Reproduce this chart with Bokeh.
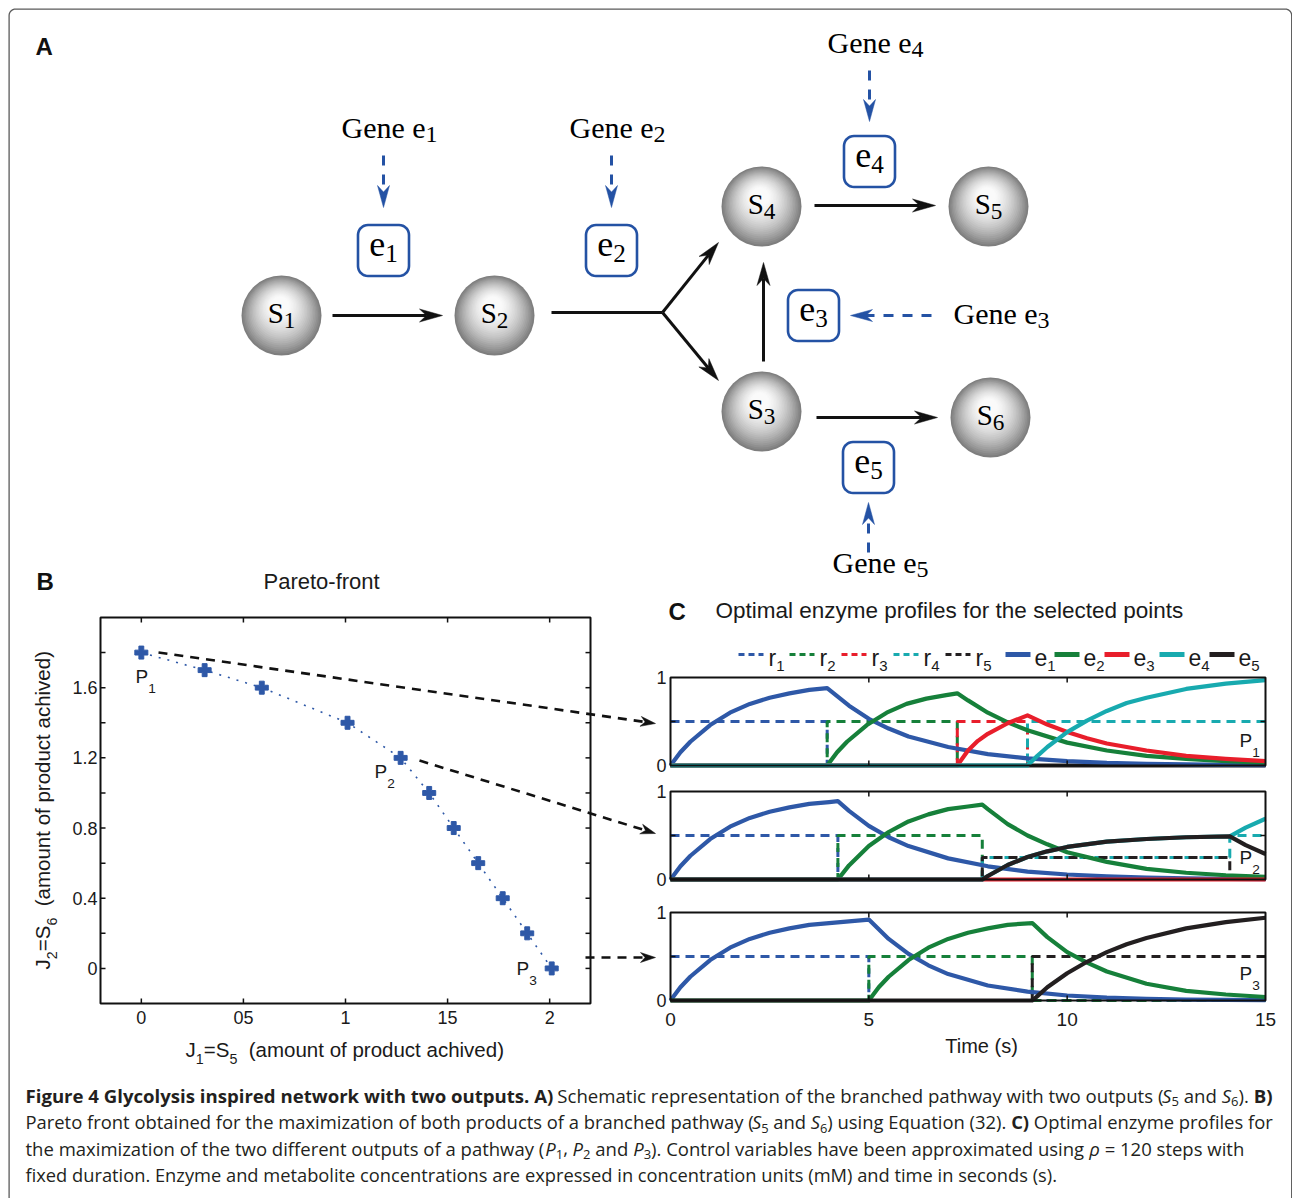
import os, math, glob, subprocess
from bokeh.plotting import figure
from bokeh.models import Range1d
from bokeh.core.properties import value
from bokeh.embed import file_html
from bokeh.resources import INLINE

try:
    from PIL import ImageFont
except Exception:
    ImageFont = None

# ------------------------------------------------------------------ data
# Panel B : Pareto front
PARETO_J1 = [0.0, 0.31, 0.59, 1.01, 1.27, 1.41, 1.53, 1.65, 1.77, 1.89, 2.01]
PARETO_J2 = [1.8, 1.7, 1.6, 1.4, 1.2, 1.0, 0.8, 0.6, 0.4, 0.2, 0.0]
BX_TICKS = [0, 0.5, 1, 1.5, 2]
BX_LABELS = ["0", "05", "1", "15", "2"]
BY_TICKS = [0, 0.2, 0.4, 0.6, 0.8, 1.0, 1.2, 1.4, 1.6, 1.8]
BY_LABEL_AT = [0, 0.4, 0.8, 1.2, 1.6]
BY_LABELS = ["0", "0.4", "0.8", "1.2", "1.6"]

# Panel C : time axis
CX_TICKS = [5, 10]
CX_LABEL_AT = [0, 5, 10, 15]
CX_LABELS = ["0", "5", "10", "15"]
CY_TICKS = [0.5]
CY_LABEL_AT = [0, 1]
CY_LABELS = ["0", "1"]

# P1 controls (r) and enzymes (e)
P1_T_R1 = [0, 3.95, 3.95, 15];              P1_R1 = [0.5, 0.5, 0, 0]
P1_T_R2 = [0, 3.95, 3.95, 7.23, 7.23, 15];  P1_R2 = [0, 0, 0.5, 0.5, 0, 0]
P1_T_R3 = [0, 7.23, 7.23, 9.0, 9.0, 15];    P1_R3 = [0, 0, 0.5, 0.5, 0, 0]
P1_T_R4 = [0, 9.0, 9.0, 15];                P1_R4 = [0, 0, 0.5, 0.5]
P1_T_R5 = [0, 15];                          P1_R5 = [0, 0]
P1_T_E1 = [0, 0.25, 0.5, 1, 1.5, 2, 2.5, 3, 3.5, 3.95, 4.5, 5, 5.5, 6, 7, 8, 9, 10, 11, 12, 13, 14, 15]
P1_E1 = [0, 0.15, 0.27, 0.46, 0.60, 0.70, 0.77, 0.82, 0.86, 0.88, 0.68, 0.53, 0.42, 0.33, 0.21, 0.13, 0.08, 0.05, 0.03, 0.02, 0.012, 0.007, 0.005]
P1_T_E2 = [0, 3.95, 4.2, 4.45, 4.95, 5.45, 5.95, 6.45, 6.95, 7.23, 7.5, 8, 8.5, 9, 10, 11, 12, 13, 14, 15]
P1_E2 = [0, 0, 0.15, 0.27, 0.46, 0.60, 0.70, 0.76, 0.80, 0.82, 0.74, 0.60, 0.49, 0.40, 0.26, 0.17, 0.11, 0.075, 0.05, 0.033]
P1_T_E3 = [0, 7.23, 7.5, 7.75, 8, 8.5, 9, 9.5, 10, 10.5, 11, 12, 13, 14, 15]
P1_E3 = [0, 0, 0.17, 0.28, 0.36, 0.48, 0.57, 0.465, 0.38, 0.31, 0.25, 0.17, 0.11, 0.075, 0.05]
P1_T_E4 = [0, 9, 9.25, 9.5, 10, 10.5, 11, 11.5, 12, 13, 14, 15]
P1_E4 = [0, 0, 0.11, 0.21, 0.38, 0.51, 0.62, 0.71, 0.77, 0.87, 0.93, 0.97]
P1_T_E5 = [0, 15];                          P1_E5 = [0, 0]

# P2
P2_T_R1 = [0, 4.22, 4.22, 15];              P2_R1 = [0.5, 0.5, 0, 0]
P2_T_R2 = [0, 4.22, 4.22, 7.86, 7.86, 15];  P2_R2 = [0, 0, 0.5, 0.5, 0, 0]
P2_T_R3 = [0, 15];                          P2_R3 = [0, 0]
P2_T_R4 = [0, 7.86, 7.86, 14.1, 14.1, 15];  P2_R4 = [0, 0, 0.25, 0.25, 0.5, 0.5]
P2_T_R5 = [0, 7.86, 7.86, 14.1, 14.1, 15];  P2_R5 = [0, 0, 0.25, 0.25, 0, 0]
P2_T_E1 = [0, 0.25, 0.5, 1, 1.5, 2, 2.5, 3, 3.5, 4, 4.22, 4.5, 5, 5.5, 6, 7, 8, 9, 10, 11, 12, 13, 14, 15]
P2_E1 = [0, 0.15, 0.27, 0.46, 0.60, 0.70, 0.77, 0.82, 0.86, 0.88, 0.89, 0.78, 0.61, 0.48, 0.38, 0.24, 0.15, 0.09, 0.057, 0.035, 0.022, 0.014, 0.008, 0.005]
P2_T_E2 = [0, 4.22, 4.5, 5, 5.5, 6, 6.5, 7, 7.5, 7.86, 8, 8.5, 9, 9.5, 10, 11, 12, 13, 14, 15]
P2_E2 = [0, 0, 0.16, 0.38, 0.54, 0.66, 0.74, 0.80, 0.83, 0.85, 0.80, 0.63, 0.50, 0.40, 0.31, 0.20, 0.12, 0.077, 0.048, 0.03]
P2_T_E3 = [0, 15];                          P2_E3 = [0, 0]
P2_T_E4 = [0, 7.86, 8, 8.5, 9, 9.5, 10, 11, 12, 13, 14.1, 14.5, 15]
P2_E4 = [0, 0, 0.04, 0.165, 0.255, 0.32, 0.37, 0.43, 0.46, 0.48, 0.49, 0.59, 0.69]
P2_T_E5 = [0, 7.86, 8, 8.5, 9, 9.5, 10, 11, 12, 13, 14.1, 14.5, 15]
P2_E5 = [0, 0, 0.04, 0.165, 0.255, 0.32, 0.37, 0.43, 0.46, 0.48, 0.49, 0.39, 0.29]

# P3
P3_T_R1 = [0, 5.0, 5.0, 15];                P3_R1 = [0.5, 0.5, 0, 0]
P3_T_R2 = [0, 5.0, 5.0, 9.12, 9.12, 15];    P3_R2 = [0, 0, 0.5, 0.5, 0, 0]
P3_T_R5 = [0, 9.12, 9.12, 15];              P3_R5 = [0, 0, 0.5, 0.5]
P3_T_E1 = [0, 0.25, 0.5, 1, 1.5, 2, 2.5, 3, 3.5, 4, 4.5, 5, 5.5, 6, 6.5, 7, 8, 9, 10, 11, 12, 13, 14, 15]
P3_E1 = [0, 0.15, 0.27, 0.46, 0.60, 0.70, 0.77, 0.82, 0.86, 0.88, 0.90, 0.92, 0.70, 0.53, 0.40, 0.30, 0.17, 0.10, 0.057, 0.033, 0.019, 0.011, 0.006, 0.004]
P3_T_E2 = [0, 5, 5.25, 5.5, 6, 6.5, 7, 7.5, 8, 8.5, 9.12, 9.5, 10, 10.5, 11, 12, 13, 14, 15]
P3_E2 = [0, 0, 0.15, 0.27, 0.46, 0.60, 0.70, 0.77, 0.82, 0.86, 0.88, 0.72, 0.55, 0.43, 0.33, 0.19, 0.11, 0.068, 0.04]
P3_T_E5 = [0, 9.12, 9.25, 9.5, 10, 10.5, 11, 11.5, 12, 13, 14, 15]
P3_E5 = [0, 0, 0.05, 0.15, 0.31, 0.44, 0.55, 0.64, 0.71, 0.82, 0.89, 0.94]

LEGEND_SUBS = ["1", "2", "3", "4", "5"]

CAPTION = [
    [("Figure 4 Glycolysis inspired network with two outputs. A)", "b"),
     (" Schematic representation of the branched pathway with two outputs (", "n"),
     ("S", "i"), ("5", "sub"), (" and ", "n"), ("S", "i"), ("6", "sub"), ("). ", "n"), ("B)", "b")],
    [("Pareto front obtained for the maximization of both products of a branched pathway (", "n"),
     ("S", "i"), ("5", "sub"), (" and ", "n"), ("S", "i"), ("6", "sub"),
     (") using Equation (32). ", "n"), ("C)", "b"), (" Optimal enzyme profiles for", "n")],
    [("the maximization of the two different outputs of a pathway (", "n"),
     ("P", "i"), ("1", "sub"), (", ", "n"), ("P", "i"), ("2", "sub"), (" and ", "n"), ("P", "i"), ("3", "sub"),
     ("). Control variables have been approximated using ", "n"), ("\u03c1", "i"), (" = 120 steps with", "n")],
    [("fixed duration. Enzyme and metabolite concentrations are expressed in concentration units (mM) and time in seconds (s).", "n")],
]

# ------------------------------------------------------------------ styles
BLUE, GREEN, RED, CYAN, BLACK = "#2E58A7", "#16803A", "#E81E2B", "#18AAAF", "#231F20"
SER_COL = [BLUE, GREEN, RED, CYAN, BLACK]
ENZ_BLUE = "#2452A4"
SERIF = "Liberation Serif"
SANS = "Liberation Sans"
CAPF = "Open Sans"
TXT = "#1a1a1a"

X0, Y0, W, H = 0, 0, 1292, 1198

# ------------------------------------------------------------------ font metrics
_FONTS = {}
_PREFIX = {"Liberation Serif": "LiberationSerif", "Liberation Sans": "LiberationSans", "Open Sans": "OpenSans"}
_SUFFIX = {"normal": "Regular", "bold": "Bold", "italic": "Italic"}
_MID_DEFAULT = {"Liberation Serif": 0.338, "Liberation Sans": 0.347, "Open Sans": 0.388}


def _font(family, style):
    key = (family, style)
    if key in _FONTS:
        return _FONTS[key]
    f = None
    if ImageFont is not None:
        path = None
        cands = glob.glob("/usr/share/fonts/**/%s-%s.ttf" % (_PREFIX.get(family, family), _SUFFIX[style]), recursive=True)
        if cands:
            path = cands[0]
        if path is None:
            try:
                pat = family + {"normal": "", "bold": ":bold", "italic": ":italic"}[style]
                r = subprocess.run(["fc-match", "-f", "%{file}", pat], capture_output=True, text=True, timeout=10)
                path = r.stdout.strip()
            except Exception:
                path = None
        if path and os.path.exists(path):
            try:
                f = ImageFont.truetype(path, 100)
                if style == "bold":
                    try:
                        f.set_variation_by_name("Bold")
                    except Exception:
                        pass
            except Exception:
                f = None
    _FONTS[key] = f
    return f


def tw(text, family, size, style="normal"):
    f = _font(family, style)
    if f is None:
        return 0.53 * size * len(text)
    return f.getlength(text) * size / 100.0


def mid_k(family):
    f = _font(family, "normal")
    if f is not None:
        try:
            asc, desc = f.getmetrics()
            k = (asc - desc) / 200.0
            if 0.25 < k < 0.45:
                return k
        except Exception:
            pass
    return _MID_DEFAULT.get(family, 0.35)


# ------------------------------------------------------------------ figure
def xrng(a, b, d0, d1):
    s = (d1 - d0) / (b - a)
    return Range1d(start=d0 - (a - X0) * s, end=d1 + (X0 + W - b) * s)


def yrng(top, bot, d_top, d_bot):
    s = (d_top - d_bot) / (bot - top)
    return Range1d(start=d_bot - (Y0 + H - bot) * s, end=d_top + (top - Y0) * s)


p = figure(width=W, height=H, x_range=Range1d(X0, X0 + W), y_range=Range1d(Y0 + H, Y0),
           output_backend="svg", toolbar_location=None, tools="",
           x_axis_location=None, y_axis_location=None, min_border=0)
p.outline_line_color = None
p.background_fill_color = "white"
p.border_fill_color = "white"
p.grid.visible = False
p.xgrid.visible = False
p.ygrid.visible = False

B_L, B_R, B_T, B_B = 100, 590, 617, 1003
C_L, C_R = 670, 1265
C_PANELS = [("c1", 677, 765), ("c2", 791, 879), ("c3", 912, 1000)]
p.extra_x_ranges = {"bx": xrng(B_L, B_R, -0.2, 2.2), "cx": xrng(C_L, C_R, 0, 15)}
p.extra_y_ranges = {"by": yrng(B_T, B_B, 2.0, -0.2)}
for nm, top, bot in C_PANELS:
    p.extra_y_ranges[nm] = yrng(top, bot, 1.0, 0.0)

# ------------------------------------------------------------------ text helpers
_TEXTS = {}


def add_text(x, y, s, family, size, style="normal", color=TXT, align="left",
             baseline="alphabetic", angle=0.0, xr="default", yr="default"):
    if baseline == "alphabetic":
        # place by visual baseline: convert to a centred anchor
        k = mid_k(family) * size
        if angle == 0.0:
            y = y - k
        else:
            x = x - k
        baseline = "middle"
    key = (family, round(size, 1), style, color, align, baseline, angle, xr, yr)
    g = _TEXTS.setdefault(key, {"x": [], "y": [], "t": []})
    g["x"].append(x)
    g["y"].append(y)
    g["t"].append(s)


def rich(x, y, segs, family, size, color=TXT, sub_scale=0.7, sub_drop=6.0,
         align="left", angle=0.0):
    info = []
    for text, kind in segs:
        if kind == "sub":
            sz, st = size * sub_scale, "normal"
        elif kind == "b":
            sz, st = size, "bold"
        elif kind == "i":
            sz, st = size, "italic"
        else:
            sz, st = size, "normal"
        info.append((text, kind, sz, st, tw(text, family, sz, st)))
    total = sum(i[4] for i in info)
    pos = {"left": 0.0, "center": -total / 2.0, "right": -total}[align]
    for text, kind, sz, st, w in info:
        drop = sub_drop if kind == "sub" else 0.0
        core = text.strip(" ")
        lead = text[:len(text) - len(text.lstrip(" "))]
        lw = tw(lead, family, sz, st) if lead else 0.0
        if core:
            if angle == 0.0:
                add_text(x + pos + lw, y + drop, core, family, sz, st, color)
            else:
                add_text(x + drop, y - pos - lw, core, family, sz, st, color, angle=angle)
        pos += w
    return total


def flush_texts():
    for (family, size, style, color, align, baseline, angle, xr, yr), g in _TEXTS.items():
        kw = {}
        if xr != "default":
            kw["x_range_name"] = xr
        if yr != "default":
            kw["y_range_name"] = yr
        p.text(x=g["x"], y=g["y"], text=g["t"], text_font=value(family),
               text_font_size=value("%.1fpx" % size), text_font_style=style,
               text_color=color, text_align=align, text_baseline=baseline,
               angle=angle, **kw)


def head(tip, frm, L, w, notch=0.3):
    tx, ty = tip
    dx, dy = tx - frm[0], ty - frm[1]
    n = math.hypot(dx, dy)
    dx, dy = dx / n, dy / n
    nx, ny = -dy, dx
    bx, by = tx - L * dx, ty - L * dy
    mx, my = tx - (1 - notch) * L * dx, ty - (1 - notch) * L * dy
    return [tx, bx + w * nx, mx, bx - w * nx], [ty, by + w * ny, my, by - w * ny], (mx, my)


def rounded_rect(cx, cy, w, h, r, n=8):
    pts = []
    corners = [(cx + w / 2 - r, cy - h / 2 + r, -90, 0), (cx + w / 2 - r, cy + h / 2 - r, 0, 90),
               (cx - w / 2 + r, cy + h / 2 - r, 90, 180), (cx - w / 2 + r, cy - h / 2 + r, 180, 270)]
    for ox, oy, a0, a1 in corners:
        for i in range(n + 1):
            a = math.radians(a0 + (a1 - a0) * i / n)
            pts.append((ox + r * math.cos(a), oy + r * math.sin(a)))
    return [q[0] for q in pts], [q[1] for q in pts]


# ------------------------------------------------------------------ page frame
fx, fy = [8.6], [Y0 + H]
for i in range(9):
    a = math.radians(180 + 90 * i / 8)
    fx.append(15.0 + 6.4 * math.cos(a))
    fy.append(15.0 + 6.4 * math.sin(a))
for i in range(9):
    a = math.radians(270 + 90 * i / 8)
    fx.append(1284.8 + 6.4 * math.cos(a))
    fy.append(15.0 + 6.4 * math.sin(a))
fx.append(1291.2)
fy.append(Y0 + H)
p.line(fx, fy, line_color="#5a5a5a", line_width=1.3)

# ------------------------------------------------------------------ panel A : diagram
SPHERES = [("1", 281, 315), ("2", 494, 315), ("4", 761, 206), ("5", 988, 206), ("3", 761, 411), ("6", 990, 417)]
R = 40
N = 26
cxs, cys, crs, ccol = [], [], [], []
for lab, cx, cy in SPHERES:
    for k in range(N):
        t = k / (N - 1)
        cxs.append(cx - 0.05 * R * t)
        cys.append(cy - 0.30 * R * t)
        crs.append(R * (1 - 0.94 * t))
        g = int(round(126 + 130 * (1 - (1 - t) ** 1.8)))
        g = min(g, 250)
        ccol.append("#%02x%02x%02x" % (g, g, g))
p.circle(cxs, cys, radius=crs, fill_color=ccol, line_color=None)

# black reaction arrows
p.line([551, 662], [312, 312], line_color="#111111", line_width=3)
BLACK_ARROWS = [((332, 315), (442, 315)), ((662, 312), (718, 242)), ((662, 312), (718, 380)),
                ((763, 361), (763, 262)), ((814, 205), (935, 205)), ((816, 417), (937, 417))]
hx, hy = [], []
for a, b in BLACK_ARROWS:
    xs_, ys_, m = head(b, a, 23, 6.5)
    hx.append(xs_)
    hy.append(ys_)
    p.line([a[0], m[0]], [a[1], m[1]], line_color="#111111", line_width=3)
p.patches(hx, hy, fill_color="#111111", line_color="#111111", line_width=0.5)

# blue gene arrows
BLUE_ARROWS = [((383, 155), (383, 207)), ((611, 155), (611, 207)), ((869, 70), (869, 121)),
               ((931, 315), (850, 315)), ((868, 552), (868, 502))]
hx, hy = [], []
for a, b in BLUE_ARROWS:
    xs_, ys_, m = head(b, a, 22, 6.0)
    hx.append(xs_)
    hy.append(ys_)
    p.line([a[0], m[0]], [a[1], m[1]], line_color=ENZ_BLUE, line_width=3, line_dash="10 9")
p.patches(hx, hy, fill_color=ENZ_BLUE, line_color=ENZ_BLUE, line_width=0.5)

# enzyme boxes
BOXES = [("1", 383, 250), ("2", 611, 250), ("4", 869, 161), ("3", 813, 315), ("5", 868, 467)]
bxs, bys = [], []
for lab, cx, cy in BOXES:
    xs_, ys_ = rounded_rect(cx, cy, 51, 51, 10)
    bxs.append(xs_)
    bys.append(ys_)
    rich(cx, cy + 6, [("e", "n"), (lab, "sub")], SERIF, 36, color="#000000", sub_scale=0.7, sub_drop=6, align="center")
p.patches(bxs, bys, fill_color="white", line_color=ENZ_BLUE, line_width=2.6)

for lab, cx, cy in SPHERES:
    rich(cx, cy + 7, [("S", "n"), (lab, "sub")], SERIF, 29, color="#000000", sub_scale=0.8, sub_drop=5.5, align="center")

GENES = [("1", 341, 137), ("2", 569, 137), ("4", 827, 52), ("3", 953, 323), ("5", 832, 572)]
for lab, gx, gy in GENES:
    rich(gx, gy, [("Gene e", "n"), (lab, "sub")], SERIF, 30, color="#000000", sub_scale=0.8, sub_drop=5)

add_text(35, 54, "A", SANS, 24, "bold", "#111111")
add_text(36, 589, "B", SANS, 24, "bold", "#111111")
add_text(668, 619, "C", SANS, 24, "bold", "#111111")

# ------------------------------------------------------------------ panel B : Pareto front
add_text(263, 589, "Pareto-front", SANS, 22)
p.line(PARETO_J1, PARETO_J2, x_range_name="bx", y_range_name="by", line_color=BLUE,
       line_width=1.6, line_dash="2 7")
p.scatter(PARETO_J1, PARETO_J2, x_range_name="bx", y_range_name="by", marker="plus",
          size=13, fill_color=BLUE, line_color=BLUE)

# frame and ticks
p.quad(left=[-0.2], right=[2.2], bottom=[-0.2], top=[2.0], x_range_name="bx", y_range_name="by",
       fill_alpha=0, line_color="#111111", line_width=2)
n = len(BX_TICKS)
p.segment(x0=BX_TICKS, y0=[B_B] * n, x1=BX_TICKS, y1=[B_B - 5] * n, x_range_name="bx",
          line_color="#111111", line_width=1.5)
p.segment(x0=BX_TICKS, y0=[B_T] * n, x1=BX_TICKS, y1=[B_T + 5] * n, x_range_name="bx",
          line_color="#111111", line_width=1.5)
n = len(BY_TICKS)
p.segment(x0=[B_L] * n, y0=BY_TICKS, x1=[B_L + 5] * n, y1=BY_TICKS, y_range_name="by",
          line_color="#111111", line_width=1.5)
p.segment(x0=[B_R] * n, y0=BY_TICKS, x1=[B_R - 5] * n, y1=BY_TICKS, y_range_name="by",
          line_color="#111111", line_width=1.5)
for t, lab in zip(BX_TICKS, BX_LABELS):
    add_text(t, 1023, lab, SANS, 18, align="center", xr="bx")
for t, lab in zip(BY_LABEL_AT, BY_LABELS):
    add_text(97, t, lab, SANS, 18, align="right", baseline="middle", yr="by")

rich(185, 1056, [("J", "n"), ("1", "sub"), ("=S", "n"), ("5", "sub"), ("  (amount of product achived)", "n")],
     SANS, 20.5, sub_scale=0.7, sub_drop=7)
rich(49, 969, [("J", "n"), ("2", "sub"), ("=S", "n"), ("6", "sub"), ("  (amount of product achived)", "n")],
     SANS, 20.5, sub_scale=0.7, sub_drop=7, angle=math.pi / 2)

for lab, lx, ly in [("1", 135, 683), ("2", 374, 778), ("3", 516, 975)]:
    rich(lx, ly, [("P", "n"), (lab, "sub")], SANS, 19, sub_scale=0.72, sub_drop=10)

# dashed pointer arrows from B to C
PTR = [((158, 652), (655, 723)), ((419, 760), (655, 833)), ((585, 957), (655, 957))]
hx, hy = [], []
for a, b in PTR:
    xs_, ys_, m = head(b, a, 15, 5.0)
    hx.append(xs_)
    hy.append(ys_)
    p.line([a[0], m[0]], [a[1], m[1]], line_color="#111111", line_width=2.6, line_dash="9 7")
p.patches(hx, hy, fill_color="#111111", line_color="#111111", line_width=0.5)

# ------------------------------------------------------------------ panel C : enzyme profiles
add_text(715, 618, "Optimal enzyme profiles for the selected points", SANS, 22.5)

C_R_SERIES = {
    "c1": [(P1_T_R1, P1_R1, 0), (P1_T_R2, P1_R2, 1), (P1_T_R3, P1_R3, 2), (P1_T_R4, P1_R4, 3), (P1_T_R5, P1_R5, 4)],
    "c2": [(P2_T_R1, P2_R1, 0), (P2_T_R2, P2_R2, 1), (P2_T_R3, P2_R3, 2), (P2_T_R4, P2_R4, 3), (P2_T_R5, P2_R5, 4)],
    "c3": [(P3_T_R1, P3_R1, 0), (P3_T_R2, P3_R2, 1), (P3_T_R5, P3_R5, 4)],
}
C_E_SERIES = {
    "c1": [(P1_T_E5, P1_E5, 4), (P1_T_E1, P1_E1, 0), (P1_T_E2, P1_E2, 1), (P1_T_E3, P1_E3, 2), (P1_T_E4, P1_E4, 3)],
    "c2": [(P2_T_E1, P2_E1, 0), (P2_T_E2, P2_E2, 1), (P2_T_E3, P2_E3, 2), (P2_T_E4, P2_E4, 3), (P2_T_E5, P2_E5, 4)],
    "c3": [(P3_T_E1, P3_E1, 0), (P3_T_E2, P3_E2, 1), (P3_T_E5, P3_E5, 4)],
}
P_LABEL_BASE = {"c1": ("1", 747), "c2": ("2", 864), "c3": ("3", 980)}

for nm, top, bot in C_PANELS:
    for ts, vs, ci in C_R_SERIES[nm]:
        off = 4 if (nm == "c2" and ci == 3) else 0
        p.line(ts, vs, x_range_name="cx", y_range_name=nm, line_color=SER_COL[ci], line_width=3,
               line_dash="9 6", line_dash_offset=off)
    for ts, vs, ci in C_E_SERIES[nm]:
        p.line(ts, vs, x_range_name="cx", y_range_name=nm, line_color=SER_COL[ci], line_width=4.2,
               line_join="round")
    p.quad(left=[0], right=[15], bottom=[0], top=[1], x_range_name="cx", y_range_name=nm,
           fill_alpha=0, line_color="#111111", line_width=2)
    k = len(CX_TICKS)
    p.segment(x0=CX_TICKS, y0=[bot] * k, x1=CX_TICKS, y1=[bot - 5] * k, x_range_name="cx",
              line_color="#111111", line_width=1.5)
    p.segment(x0=CX_TICKS, y0=[top] * k, x1=CX_TICKS, y1=[top + 5] * k, x_range_name="cx",
              line_color="#111111", line_width=1.5)
    k = len(CY_TICKS)
    p.segment(x0=[C_L] * k, y0=CY_TICKS, x1=[C_L + 5] * k, y1=CY_TICKS, y_range_name=nm,
              line_color="#111111", line_width=1.5)
    p.segment(x0=[C_R] * k, y0=CY_TICKS, x1=[C_R - 5] * k, y1=CY_TICKS, y_range_name=nm,
              line_color="#111111", line_width=1.5)
    for t, lab in zip(CY_LABEL_AT, CY_LABELS):
        add_text(666, t, lab, SANS, 18, align="right", baseline="middle", yr=nm)
    plab, pby = P_LABEL_BASE[nm]
    rich(1239, pby, [("P", "n"), (plab, "sub")], SANS, 19, sub_scale=0.72, sub_drop=10)

for t, lab in zip(CX_LABEL_AT, CX_LABELS):
    add_text(t, 1026, lab, SANS, 19, align="center", xr="cx")
add_text(981, 1052, "Time (s)", SANS, 20, align="center")

# legend
LEG_X = [738, 789, 841, 893, 945, 1005, 1054, 1104, 1159, 1209]
LEG_Y = 654
for i in range(10):
    x = LEG_X[i]
    ci = i % 5
    if i < 5:
        p.line([x, x + 25], [LEG_Y, LEG_Y], line_color=SER_COL[ci], line_width=3, line_dash="6 4")
        rich(x + 30, 665, [("r", "n"), (LEGEND_SUBS[ci], "sub")], SANS, 23, sub_scale=0.65, sub_drop=6)
    else:
        p.line([x, x + 25], [LEG_Y, LEG_Y], line_color=SER_COL[ci], line_width=5)
        rich(x + 29, 665, [("e", "n"), (LEGEND_SUBS[ci], "sub")], SANS, 23, sub_scale=0.65, sub_drop=6)

# ------------------------------------------------------------------ caption
CAP_TARGET = [1247, 1247, 1219, 1029]


def seg_width(segs, size):
    tot = 0.0
    for text, kind in segs:
        if kind == "sub":
            tot += tw(text, CAPF, size * 0.7, "normal")
        elif kind == "b":
            tot += tw(text, CAPF, size, "bold")
        elif kind == "i":
            tot += tw(text, CAPF, size, "italic")
        else:
            tot += tw(text, CAPF, size, "normal")
    return tot


fits = [tgt / seg_width(line, 1.0) for tgt, line in zip(CAP_TARGET, CAPTION)]
base = sorted(fits)[len(fits) // 2]
for i, line in enumerate(CAPTION):
    sz = max(base * 0.96, min(base * 1.04, fits[i]))
    sz = max(13.0, min(19.0, sz))
    rich(25, 1102 + 26.5 * i, line, CAPF, sz, color="#231F20", sub_scale=0.7, sub_drop=4)

flush_texts()

open("out.html", "w").write(file_html(p, INLINE, title="Figure 4"))
